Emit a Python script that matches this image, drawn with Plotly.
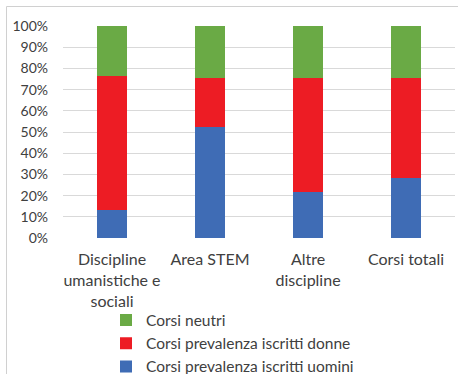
import plotly.graph_objects as go

categories = ["Discipline<br>umanistiche e<br>sociali", "Area STEM", "Altre<br>discipline", "Corsi totali"]
uomini = [13.0, 52.4, 21.8, 28.4]
donne = [63.5, 23.0, 53.9, 47.3]
neutri = [23.5, 24.6, 24.3, 24.3]

y_ticks = list(range(0, 101, 10))
y_tick_labels = [f"{v}%" for v in y_ticks]

series_names = ["Corsi prevalenza iscritti uomini", "Corsi prevalenza iscritti donne", "Corsi neutri"]
series_values = [uomini, donne, neutri]
series_colors = ["#3F6CB5", "#ED1C24", "#6AAA45"]
series_rank = [3, 2, 1]

W, H = 458, 374
L, R, T, B = 63, 3, 26, 136

fig = go.Figure()
for i, (name, vals, col, rk) in enumerate(zip(series_names, series_values, series_colors, series_rank)):
    fig.add_trace(go.Bar(x=categories, y=vals, name=name, marker=dict(color=col, line=dict(width=0)),
                         legendrank=rk))

font_family = "Lato, 'Liberation Sans', Arial, sans-serif"

pw = W - L - R
ph = H - T - B

def px2x(px):
    return (px - L) / pw

def py2y(py):
    return (H - B - py) / ph

fig.update_layout(
    width=W, height=H,
    margin=dict(l=L, r=R, t=T, b=B, autoexpand=False),
    barmode="stack",
    bargap=0.69,
    plot_bgcolor="white",
    paper_bgcolor="white",
    font=dict(family=font_family, size=15, color="#404040"),
    xaxis=dict(showgrid=False, showline=False, zeroline=False, ticks="", tickfont=dict(size=16, color="#404040"),
               ticklabelstandoff=10),
    yaxis=dict(range=[0, 100], tickmode="array", tickvals=y_ticks, ticktext=y_tick_labels,
               showgrid=True, gridcolor="#D9D9D9", gridwidth=1, zeroline=False, showline=False,
               tickfont=dict(size=14, color="#404040"), ticklabelstandoff=14),
    legend=dict(traceorder="normal", x=px2x(106), xanchor="left",
                y=py2y(303.5), yanchor="top", font=dict(size=15.5, color="#404040"),
                itemwidth=30, bgcolor="rgba(0,0,0,0)"),
    shapes=[dict(type="rect", xref="paper", yref="paper", x0=px2x(6.5), x1=px2x(475),
                 y0=py2y(385), y1=py2y(6.5), line=dict(color="#D0D0D0", width=1), layer="above")],
)

fig.write_html("out.html", config={"displayModeBar": False},
               post_script="document.body.style.margin='0';document.body.style.overflow='hidden';")
